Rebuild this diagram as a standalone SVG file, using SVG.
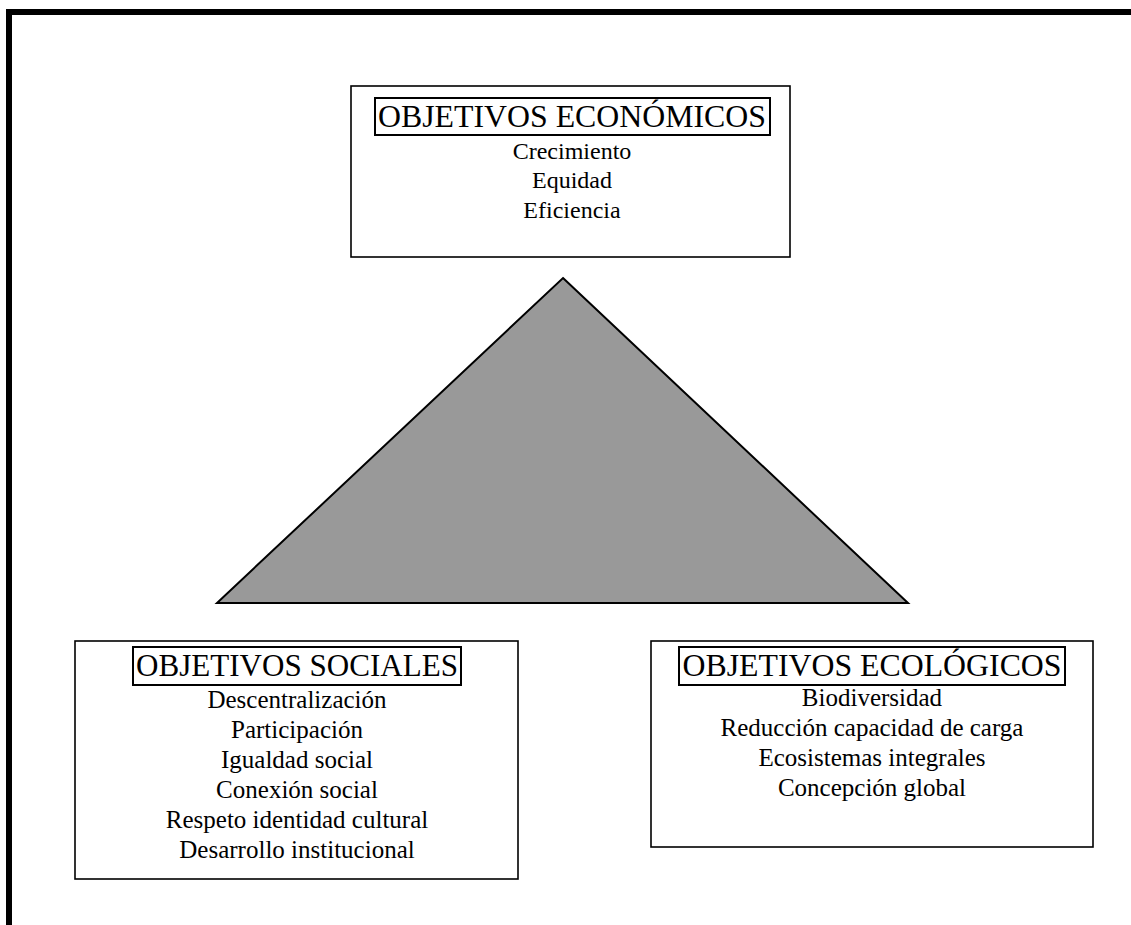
<svg xmlns="http://www.w3.org/2000/svg" width="1131" height="925" viewBox="0 0 1131 925">
  <style>
    .frame { fill: none; stroke: #000; stroke-width: 6; stroke-linejoin: miter; }
    .box { fill: #fff; stroke: #000; stroke-width: 1.6; }
    .titlebox { fill: none; stroke: #000; stroke-width: 2; }
    .title { font-family: "Liberation Serif", "Times New Roman", serif; font-size: 32px; fill: #000; text-anchor: middle; }
    .item { font-family: "Liberation Serif", "Times New Roman", serif; font-size: 25px; fill: #000; text-anchor: middle; }
    .item-top { font-size: 24px; }
    .tri { fill: #999999; stroke: #000; stroke-width: 2; stroke-linejoin: miter; }
  </style>
  <rect x="0" y="0" width="1131" height="925" fill="#fff"/>

  <!-- page frame: top and left rules -->
  <path class="frame" d="M9,925 L9,12 L1131,12"/>

  <!-- central triangle -->
  <g id="triangle">
    <polygon class="tri" points="563,278 908,603 217,603"/>
  </g>

  <!-- economic objectives -->
  <g id="economicos">
    <rect class="box" x="351" y="86" width="439" height="171"/>
    <rect class="titlebox" x="375" y="98" width="395" height="37"/>
    <text class="title" x="572" y="127" textLength="388" lengthAdjust="spacingAndGlyphs">OBJETIVOS ECONÓMICOS</text>
    <text class="item item-top" x="572" y="159">Crecimiento</text>
    <text class="item item-top" x="572" y="188">Equidad</text>
    <text class="item item-top" x="572" y="218">Eficiencia</text>
  </g>

  <!-- social objectives -->
  <g id="sociales">
    <rect class="box" x="75" y="641" width="443" height="238"/>
    <rect class="titlebox" x="133" y="647" width="328" height="38"/>
    <text class="title" x="297" y="676" textLength="322" lengthAdjust="spacingAndGlyphs">OBJETIVOS SOCIALES</text>
    <text class="item" x="297" y="708">Descentralización</text>
    <text class="item" x="297" y="738">Participación</text>
    <text class="item" x="297" y="768">Igualdad social</text>
    <text class="item" x="297" y="798">Conexión social</text>
    <text class="item" x="297" y="828">Respeto identidad cultural</text>
    <text class="item" x="297" y="858">Desarrollo institucional</text>
  </g>

  <!-- ecological objectives -->
  <g id="ecologicos">
    <rect class="box" x="651" y="641" width="442" height="206"/>
    <rect class="titlebox" x="679" y="647" width="386" height="38"/>
    <text class="title" x="872" y="676" textLength="379" lengthAdjust="spacingAndGlyphs">OBJETIVOS ECOLÓGICOS</text>
    <text class="item" x="872" y="706">Biodiversidad</text>
    <text class="item" x="872" y="736">Reducción capacidad de carga</text>
    <text class="item" x="872" y="766">Ecosistemas integrales</text>
    <text class="item" x="872" y="796">Concepción global</text>
  </g>
</svg>
